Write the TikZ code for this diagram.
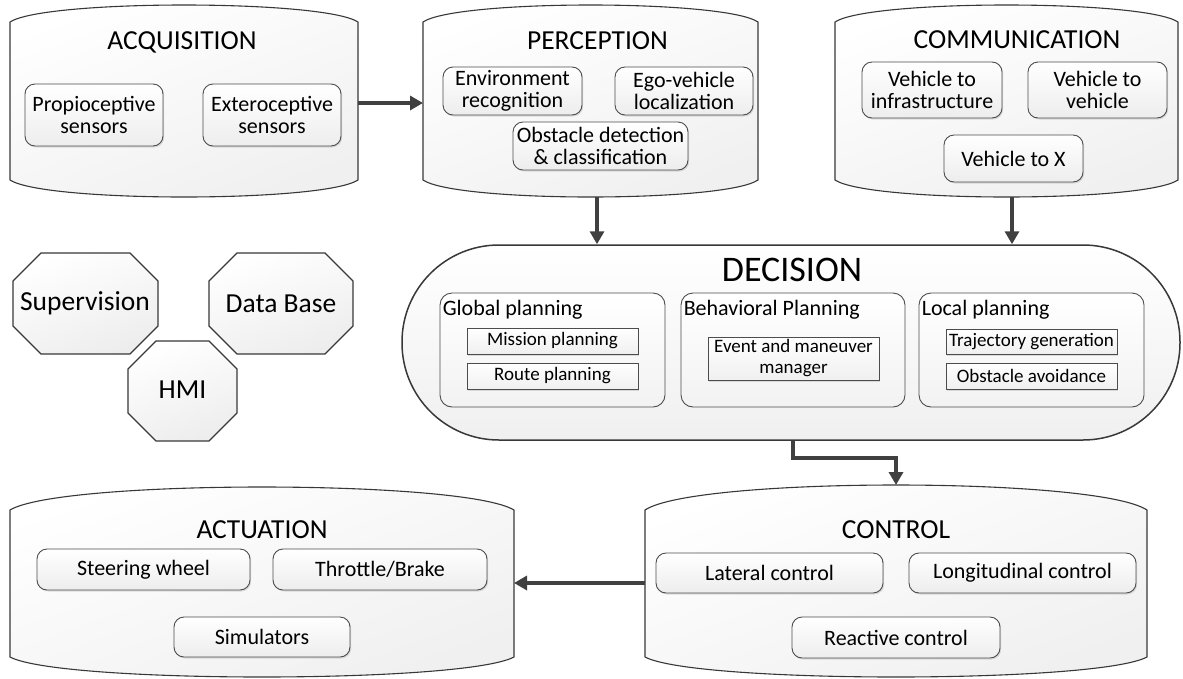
\documentclass[tikz,border=0pt]{standalone}
\usepackage{fontspec}
\setmainfont{Carlito}
\usetikzlibrary{arrows.meta,shadows,calc}
\tikzset{
  cylbox/.style={draw=black!78, line width=1.1pt, top color=white, bottom color=black!6, shading angle=20},
  hold/.style={inner sep=0pt, outer sep=0pt, draw=none},
  ttl/.style={inner sep=0pt, font=\fontsize{27.5}{30}\selectfont},
  sub/.style={draw=black!70, line width=0.9pt, rounded corners=10pt, top color=white, bottom color=black!7,
     drop shadow={shadow xshift=1.2pt, shadow yshift=-1.5pt, fill=black!40, opacity=0.3},
     align=center, inner sep=0pt, font=\fontsize{22}{22}\selectfont},
  decbox/.style={draw=black!78, line width=1.5pt, rounded corners=97pt, top color=white, bottom color=black!6},
  panel/.style={draw=black!70, line width=0.9pt, rounded corners=12pt, top color=white, bottom color=black!5},
  plabel/.style={anchor=north west, inner sep=0pt, font=\fontsize{22}{22}\selectfont},
  rbox/.style={draw=black!70, line width=0.9pt, top color=white, bottom color=black!6,
     drop shadow={shadow xshift=1.2pt, shadow yshift=-1.5pt, fill=black!40, opacity=0.3},
     align=center, inner sep=0pt, font=\fontsize{19}{21}\selectfont},
  octo/.style={draw=black!78, line width=1.1pt, top color=white, bottom color=black!7, shading angle=20},
  otext/.style={inner sep=0pt, font=\fontsize{27.5}{30}\selectfont},
  arr/.style={draw=black!75, line width=3.6pt, line join=miter, -{Triangle[width=14pt,length=13pt]}},
}
% name, L, T, R, B, top sagitta, bottom sagitta
\newcommand\cylinder[7]{%
  \path[cylbox] (#2,#5) -- (#2,#3)
    .. controls ({#2+0.1*(#4-#2)},{#3-4/3*#6}) and ({#4-0.1*(#4-#2)},{#3-4/3*#6}) .. (#4,#3)
    -- (#4,#5)
    .. controls ({#4-0.1*(#4-#2)},{#5+4/3*#7}) and ({#2+0.1*(#4-#2)},{#5+4/3*#7}) .. (#2,#5) -- cycle;
  \node[hold, minimum width={(#4-#2)*1pt}, minimum height={(#5+#7-#3+#6)*1pt}] (#1)
    at ({(#2+#4)/2},{(#3-#6+#5+#7)/2}) {};
}
% L, T, R, B, cut
\newcommand\octagon[5]{%
  \path[octo] ({#1+#5},#2) -- ({#3-#5},#2) -- (#3,{#2+#5}) -- (#3,{#4-#5})
    -- ({#3-#5},#4) -- ({#1+#5},#4) -- (#1,{#4-#5}) -- (#1,{#2+#5}) -- cycle;
}
\begin{document}
\begin{tikzpicture}[x=1pt,y=-1pt]
\useasboundingbox (0,0) rectangle (1183,678);

% ---------- containers ----------
\cylinder{acq}{10}{22}{358}{180}{17}{17}
\cylinder{per}{423}{22}{758}{180}{17}{17}
\cylinder{com}{835}{22}{1178}{180}{17}{17}
\cylinder{act}{10}{510}{514}{657}{23}{20}
\cylinder{ctl}{645}{510}{1147}{657}{25}{20}

\node[ttl] (acqT) at (182,42.5) {ACQUISITION};
\node[ttl] (perT) at (597.5,41) {PERCEPTION};
\node[ttl] (comT) at (1017,40) {COMMUNICATION};
\node[ttl] (actT) at (262,529.5) {ACTUATION};
\node[ttl] (ctlT) at (896,530) {CONTROL};

% ---------- acquisition ----------
\node[sub, minimum width=138pt, minimum height=62pt] (prop) at (94,115) {Propioceptive\\sensors};
\node[sub, minimum width=138pt, minimum height=62pt] (exte) at (272,115) {Exteroceptive\\sensors};

% ---------- perception ----------
\node[sub, minimum width=139pt, minimum height=48pt] (env) at (512.5,91) {Environment\\recognition};
\node[sub, minimum width=138pt, minimum height=48pt] (ego) at (684,91) {Ego-vehicle\\localization};
\node[sub, minimum width=175pt, minimum height=48pt] (obs) at (600.5,146) {Obstacle detection\\\& classification};

% ---------- communication ----------
\node[sub, minimum width=140pt, minimum height=56pt] (v2i) at (932,90) {Vehicle to\\infrastructure};
\node[sub, minimum width=139pt, minimum height=56pt] (v2v) at (1097.5,90) {Vehicle to\\vehicle};
\node[sub, minimum width=139pt, minimum height=47pt] (v2x) at (1013.5,158.5) {Vehicle to X};

% ---------- actuation ----------
\node[sub, minimum width=213pt, minimum height=41pt] (steer) at (143.5,569.5) {Steering wheel};
\node[sub, minimum width=214pt, minimum height=41pt] (thr) at (380,569.5) {Throttle/Brake};
\node[sub, minimum width=176pt, minimum height=40pt] (sim) at (262,637) {Simulators};

% ---------- control ----------
\node[sub, minimum width=227pt, minimum height=40pt] (lat) at (769.5,573) {Lateral control};
\node[sub, minimum width=227pt, minimum height=40pt] (lon) at (1022.5,573) {Longitudinal control};
\node[sub, minimum width=208pt, minimum height=41pt] (rea) at (896,637.5) {Reactive control};

% ---------- decision ----------
\node[decbox, minimum width=778pt, minimum height=195pt] (dec) at (791,342.5) {};
\node[inner sep=0pt, font=\fontsize{36}{40}\selectfont] (decT) at (792,270) {DECISION};

\node[panel, minimum width=225pt, minimum height=114pt] (glob) at (552.5,350) {};
\node[panel, minimum width=224pt, minimum height=114pt] (beh) at (793,350) {};
\node[panel, minimum width=225pt, minimum height=114pt] (loc) at (1031.5,350) {};
\node[plabel] (globL) at ([xshift=3pt,yshift=-7pt]glob.north west) {Global planning};
\node[plabel] (behL) at ([xshift=3pt,yshift=-7pt]beh.north west) {Behavioral Planning};
\node[plabel] (locL) at ([xshift=3pt,yshift=-7pt]loc.north west) {Local planning};

\node[rbox, minimum width=171pt, minimum height=26pt] (mis) at (552.5,341) {Mission planning};
\node[rbox, minimum width=171pt, minimum height=26pt] (rou) at (552.5,376) {Route planning};
\node[rbox, minimum width=171pt, minimum height=43pt] (evt) at (793.5,358.5) {Event and maneuver\\manager};
\node[rbox, minimum width=171pt, minimum height=25pt] (tra) at (1031.5,341.5) {Trajectory generation};
\node[rbox, minimum width=171pt, minimum height=26pt] (oav) at (1031.5,376) {Obstacle avoidance};

% ---------- octagons ----------
\octagon{13}{253}{158}{354}{28}
\octagon{209}{253}{353}{354}{28}
\octagon{128}{341}{237}{441}{28}
\node[otext] (sup) at (85,303.5) {Supervision};
\node[otext] (db) at (281,303.5) {Data Base};
\node[otext] (hmi) at (182.5,390) {HMI};

% ---------- connectors ----------
\draw[arr] ([yshift=-2pt]acq.east) -- ([yshift=-2pt]acq.east -| per.west);
\draw[arr] ([xshift=6.5pt]per.south) -- ([xshift=6.5pt]per.south |- dec.north);
\draw[arr] ([xshift=5.5pt]com.south) -- ([xshift=5.5pt]com.south |- dec.north);
\draw[arr] ([xshift=2pt]dec.south) -- ++(0,17) -| (ctl.north);
\draw[arr] ([yshift=-2pt]ctl.west) -- ([yshift=-2pt]ctl.west -| act.east);
\end{tikzpicture}
\end{document}
